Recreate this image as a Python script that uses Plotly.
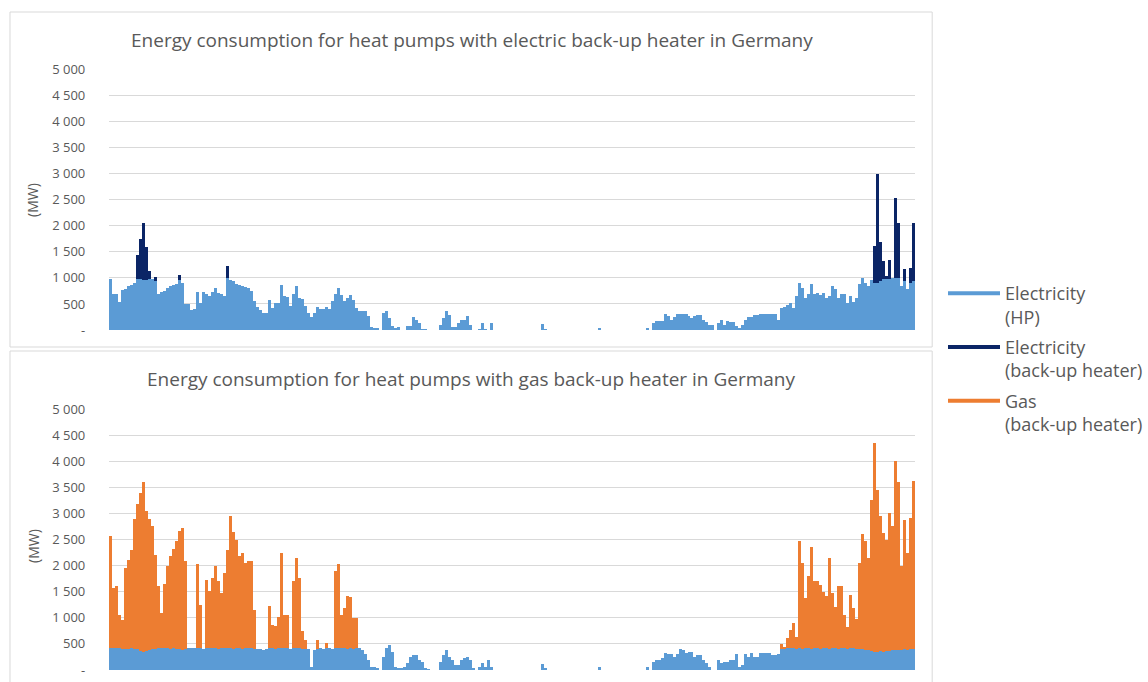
import plotly.graph_objects as go

# ---------------- data (MW), one value per time step ----------------
hp_top = [
    980, 710, 710, 540, 780, 800, 860, 880, 920, 980,
    980, 970, 960, 980, 980, 950, 700, 740, 760, 820,
    860, 880, 890, 960, 915, 500, 500, 400, 420, 740,
    520, 735, 700, 660, 740, 820, 720, 700, 670, 1000,
    960, 950, 900, 870, 860, 830, 820, 755, 560, 450,
    400, 340, 340, 590, 430, 530, 530, 880, 660, 640,
    465, 700, 850, 620, 600, 470, 340, 255, 340, 455,
    405, 405, 455, 405, 565, 700, 820, 690, 565, 630,
    690, 595, 435, 370, 370, 370, 275, 65, 40, 40,
    0, 340, 370, 245, 85, 40, 65, 0, 0, 85,
    85, 255, 210, 150, 30, 10, 0, 0, 0, 0,
    115, 245, 370, 295, 65, 65, 150, 210, 210, 275,
    115, 0, 0, 30, 150, 20, 0, 150, 0, 0,
    0, 0, 0, 0, 0, 0, 0, 0, 0, 0,
    0, 0, 0, 0, 130, 20, 0, 0, 0, 0,
    0, 0, 0, 0, 0, 0, 0, 0, 0, 0,
    0, 0, 0, 40, 0, 0, 0, 0, 0, 0,
    0, 0, 0, 0, 0, 0, 0, 0, 0, 40,
    0, 150, 180, 180, 190, 310, 275, 210, 255, 310,
    310, 320, 320, 275, 245, 275, 290, 290, 210, 165,
    100, 100, 0, 150, 210, 115, 180, 165, 165, 85,
    50, 115, 210, 255, 255, 290, 290, 310, 310, 320,
    310, 310, 310, 210, 435, 450, 490, 535, 435, 660,
    920, 820, 630, 695, 890, 695, 725, 680, 725, 630,
    660, 855, 790, 630, 695, 705, 535, 660, 550, 630,
    890, 1000, 920, 855, 965, 920, 920, 950, 985, 985,
    985, 1000, 1000, 1000, 850, 950, 790, 920, 950,
]

backup_top = [
    0, 0, 0, 0, 0, 0, 0, 0, 0, 470,
    770, 1090, 640, 160, 0, 80, 0, 0, 0, 0,
    0, 0, 0, 100, 0, 0, 0, 0, 0, 0,
    0, 0, 0, 0, 0, 0, 0, 0, 0, 240,
    0, 0, 0, 0, 0, 0, 0, 0, 0, 0,
    0, 0, 0, 0, 0, 0, 0, 0, 0, 0,
    0, 0, 0, 0, 0, 0, 0, 0, 0, 0,
    0, 0, 0, 0, 0, 0, 0, 0, 0, 0,
    0, 0, 0, 0, 0, 0, 0, 0, 0, 0,
    0, 0, 0, 0, 0, 0, 0, 0, 0, 0,
    0, 0, 0, 0, 0, 0, 0, 0, 0, 0,
    0, 0, 0, 0, 0, 0, 0, 0, 0, 0,
    0, 0, 0, 0, 0, 0, 0, 0, 0, 0,
    0, 0, 0, 0, 0, 0, 0, 0, 0, 0,
    0, 0, 0, 0, 0, 0, 0, 0, 0, 0,
    0, 0, 0, 0, 0, 0, 0, 0, 0, 0,
    0, 0, 0, 0, 0, 0, 0, 0, 0, 0,
    0, 0, 0, 0, 0, 0, 0, 0, 0, 0,
    0, 0, 0, 0, 0, 0, 0, 0, 0, 0,
    0, 0, 0, 0, 0, 0, 0, 0, 0, 0,
    0, 0, 0, 0, 0, 0, 0, 0, 0, 0,
    0, 0, 0, 0, 0, 0, 0, 0, 0, 0,
    0, 0, 0, 0, 0, 0, 0, 0, 0, 0,
    0, 0, 0, 0, 0, 0, 0, 0, 0, 0,
    0, 0, 0, 0, 0, 0, 0, 0, 0, 0,
    0, 0, 0, 0, 0, 710, 2080, 750, 355, 60,
    365, 0, 1545, 1060, 0, 225, 0, 275, 1110,
]

hp_bot = [
    420, 430, 430, 420, 410, 400, 410, 420, 410, 400,
    370, 350, 360, 380, 400, 410, 420, 420, 430, 420,
    410, 420, 410, 400, 390, 400, 420, 420, 430, 420,
    420, 410, 420, 430, 420, 420, 410, 420, 420, 430,
    420, 410, 420, 420, 410, 420, 430, 420, 410, 400,
    410, 380, 400, 420, 420, 410, 420, 420, 420, 420,
    410, 420, 430, 420, 410, 410, 400, 60, 380, 410,
    420, 410, 420, 420, 410, 420, 430, 420, 420, 410,
    420, 410, 420, 420, 380, 300, 200, 65, 65, 40,
    0, 256, 415, 480, 350, 65, 30, 30, 65, 130,
    256, 290, 290, 190, 160, 30, 10, 0, 0, 0,
    160, 290, 385, 250, 190, 95, 95, 190, 225, 256,
    190, 30, 0, 65, 130, 65, 200, 65, 0, 0,
    0, 0, 0, 0, 0, 0, 0, 0, 0, 0,
    0, 0, 0, 0, 115, 20, 0, 0, 0, 0,
    0, 0, 0, 0, 0, 0, 0, 0, 0, 0,
    0, 0, 0, 50, 0, 0, 0, 0, 0, 0,
    0, 0, 0, 0, 0, 0, 0, 0, 0, 50,
    0, 160, 190, 190, 225, 333, 307, 307, 256, 307,
    400, 380, 320, 350, 350, 256, 290, 290, 190, 128,
    64, 0, 0, 190, 128, 160, 160, 190, 190, 300,
    50, 96, 300, 256, 320, 256, 256, 320, 320, 320,
    320, 290, 290, 300, 410, 410, 420, 415, 420, 410,
    415, 410, 420, 415, 410, 420, 415, 410, 420, 415,
    410, 420, 415, 410, 420, 415, 410, 420, 415, 410,
    410, 400, 390, 380, 360, 350, 350, 360, 350, 360,
    370, 380, 390, 380, 390, 400, 390, 400, 400,
]

gas_bot = [
    2145, 1140, 1170, 640, 540, 1550, 1690, 1880, 2475, 2775,
    3030, 3250, 2685, 2505, 2360, 1800, 1180, 670, 1220, 1580,
    1770, 1890, 2060, 2260, 2335, 1685, 0, 0, 0, 1620,
    830, 0, 1310, 1075, 1345, 1570, 1290, 1055, 1440, 1870,
    2530, 2240, 2080, 1760, 1835, 1630, 1655, 1665, 745, 0,
    0, 0, 0, 800, 445, 425, 605, 1825, 640, 640,
    0, 1280, 1720, 1345, 330, 165, 0, 0, 0, 165,
    0, 0, 105, 0, 0, 1470, 1610, 640, 765, 1000,
    980, 590, 575, 0, 0, 0, 0, 0, 0, 0,
    0, 0, 0, 0, 0, 0, 0, 0, 0, 0,
    0, 0, 0, 0, 0, 0, 0, 0, 0, 0,
    0, 0, 0, 0, 0, 0, 0, 0, 0, 0,
    0, 0, 0, 0, 0, 0, 0, 0, 0, 0,
    0, 0, 0, 0, 0, 0, 0, 0, 0, 0,
    0, 0, 0, 0, 0, 0, 0, 0, 0, 0,
    0, 0, 0, 0, 0, 0, 0, 0, 0, 0,
    0, 0, 0, 0, 0, 0, 0, 0, 0, 0,
    0, 0, 0, 0, 0, 0, 0, 0, 0, 0,
    0, 0, 0, 0, 0, 0, 0, 0, 0, 0,
    0, 0, 0, 0, 0, 0, 0, 0, 0, 0,
    0, 0, 0, 0, 0, 0, 0, 0, 0, 0,
    0, 0, 0, 0, 0, 0, 0, 0, 0, 0,
    0, 0, 0, 0, 90, 40, 190, 355, 475, 230,
    2050, 1640, 955, 1385, 1945, 1280, 1285, 1210, 1080, 995,
    1735, 1050, 800, 1190, 1180, 640, 420, 1020, 770, 565,
    1640, 2200, 2075, 1765, 2905, 4000, 3105, 2590, 2275, 2140,
    2640, 2370, 3610, 3220, 1610, 2480, 1850, 2510, 3215,
]

tick_values = [0, 500, 1000, 1500, 2000, 2500, 3000, 3500, 4000, 4500, 5000]
tick_labels = ["-", "500", "1 000", "1 500", "2 000", "2 500", "3 000",
               "3 500", "4 000", "4 500", "5 000"]

titles = ["Energy consumption for heat pumps with electric back-up heater in Germany",
          "Energy consumption for heat pumps with gas back-up heater in Germany"]
legend_names = ["Electricity<br>(HP)", "Electricity<br>(back-up heater)", "Gas<br>(back-up heater)"]

# ---------------- style ----------------
BLUE = "#5b9bd5"
NAVY = "#0b2566"
ORANGE = "#ed7d31"
GRID = "#d9d9d9"
TEXT = "#595959"
FONT = "Open Sans"

W, H = 1148, 682
def px(x):
    return x / W
def py(y):
    return 1 - y / H

steps = list(range(len(hp_top)))

fig = go.Figure()
fig.add_bar(x=steps, y=hp_top, marker=dict(color=BLUE, line=dict(width=0)),
            xaxis="x", yaxis="y", showlegend=False)
fig.add_bar(x=steps, y=backup_top, marker=dict(color=NAVY, line=dict(width=0)),
            xaxis="x", yaxis="y", showlegend=False)
fig.add_bar(x=steps, y=hp_bot, marker=dict(color=BLUE, line=dict(width=0)),
            xaxis="x2", yaxis="y2", showlegend=False)
fig.add_bar(x=steps, y=gas_bot, marker=dict(color=ORANGE, line=dict(width=0)),
            xaxis="x2", yaxis="y2", showlegend=False)

for name, color in zip(legend_names, [BLUE, NAVY, ORANGE]):
    fig.add_scatter(x=[None], y=[None], mode="lines", name=name, legendgroup=name,
                    line=dict(color=color, width=4), xaxis="x", yaxis="y")

yax = dict(range=[0, 5000], tickvals=tick_values, ticktext=tick_labels,
           gridcolor=GRID, gridwidth=1, showline=False, zeroline=False,
           ticks="outside", ticklen=20, tickcolor="rgba(0,0,0,0)",
           tickfont=dict(family=FONT, size=13, color=TEXT), fixedrange=True,
           automargin=False)
xax = dict(range=[-0.5, len(steps) - 0.5], showticklabels=False, showgrid=False,
           zeroline=False, showline=False, ticks="", domain=[px(109), px(916)],
           automargin=False, fixedrange=True)

fig.update_layout(
    width=W, height=H, autosize=False, margin=dict(l=0, r=0, t=0, b=0, pad=0),
    paper_bgcolor="white", plot_bgcolor="white",
    barmode="stack", bargap=0, bargroupgap=0,
    font=dict(family=FONT, color=TEXT),
    xaxis=dict(xax, anchor="y"),
    yaxis=dict(yax, anchor="x", domain=[py(330), py(69.5)]),
    xaxis2=dict(xax, anchor="y2"),
    yaxis2=dict(yax, anchor="x2", domain=[py(670), py(409)]),
    legend=dict(x=px(944), y=py(275), xanchor="left", yanchor="top",
                font=dict(family=FONT, size=18, color=TEXT),
                bgcolor="rgba(0,0,0,0)", tracegroupgap=4, valign="top",
                traceorder="grouped", itemwidth=52),
    shapes=[
        dict(type="rect", xref="paper", yref="paper", x0=px(10), x1=px(933),
             y0=py(347), y1=py(12), line=dict(color=GRID, width=1), layer="below"),
        dict(type="rect", xref="paper", yref="paper", x0=px(10), x1=px(933),
             y0=py(690), y1=py(351), line=dict(color=GRID, width=1), layer="below"),
    ],
    annotations=[
        dict(text=titles[0], xref="paper", yref="paper", x=px(472), y=py(40),
             xanchor="center", yanchor="middle",
             showarrow=False, font=dict(family=FONT, size=19, color=TEXT)),
        dict(text=titles[1], xref="paper", yref="paper", x=px(471), y=py(379),
             xanchor="center", yanchor="middle",
             showarrow=False, font=dict(family=FONT, size=19, color=TEXT)),
        dict(text="(MW)", xref="paper", yref="paper", x=px(33), y=py(200),
             xanchor="center", yanchor="middle",
             textangle=-90, showarrow=False, font=dict(family=FONT, size=14, color=TEXT)),
        dict(text="(MW)", xref="paper", yref="paper", x=px(33), y=py(546),
             xanchor="center", yanchor="middle",
             textangle=-90, showarrow=False, font=dict(family=FONT, size=14, color=TEXT)),
    ],
)

fig.write_html(
    "out.html",
    config={"responsive": False, "displayModeBar": False},
    post_script="document.body.style.margin='0';document.body.style.overflow='hidden';",
)
